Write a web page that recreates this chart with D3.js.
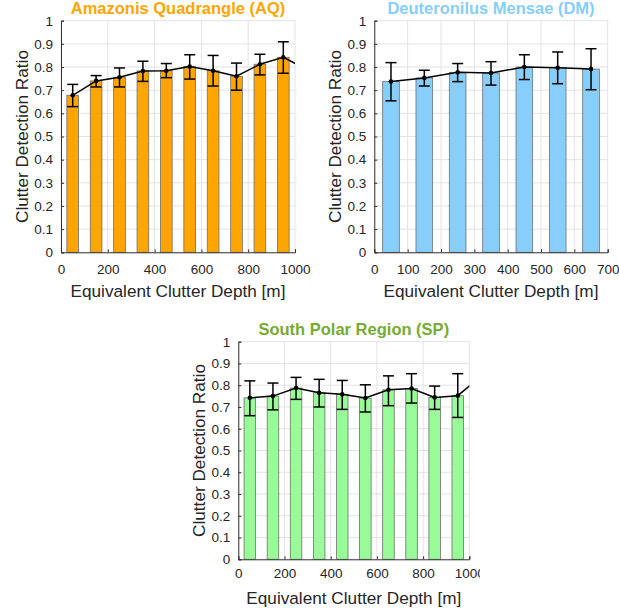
<!DOCTYPE html>
<html>
<head>
<meta charset="utf-8">
<script src="https://cdn.jsdelivr.net/npm/d3@7/dist/d3.min.js"></script>
<style>
  html, body { margin: 0; padding: 0; background: #fff; }
  svg { display: block; font-family: "Liberation Sans", Arial, Helvetica, sans-serif; }
</style>
</head>
<body>
<svg id="chart" width="619" height="613"></svg>
<script>
// ---------- DATA ----------
// Amazonis Quadrangle (AQ)
const aqDepths = [50, 150, 250, 350, 450, 550, 650, 750, 850, 950];
const aqValues = [0.678, 0.740, 0.756, 0.783, 0.784, 0.802, 0.784, 0.760, 0.812, 0.842];
const aqErrLow = [0.629, 0.714, 0.714, 0.738, 0.754, 0.748, 0.718, 0.700, 0.766, 0.773];
const aqErrHigh = [0.725, 0.763, 0.796, 0.825, 0.815, 0.853, 0.850, 0.817, 0.855, 0.909];
const aqLineTail = [{ depth: 1050, value: 0.79 }]; // out-of-range continuation (clipped)

// Deuteronilus Mensae (DM)
const dmDepths = [50, 150, 250, 350, 450, 550, 650];
const dmValues = [0.737, 0.753, 0.777, 0.774, 0.800, 0.797, 0.791];
const dmErrLow = [0.654, 0.718, 0.737, 0.722, 0.746, 0.728, 0.702];
const dmErrHigh = [0.819, 0.786, 0.815, 0.823, 0.853, 0.865, 0.879];
const dmLineTail = [];

// South Polar Region (SP)
const spDepths = [50, 150, 250, 350, 450, 550, 650, 750, 850, 950];
const spValues = [0.742, 0.750, 0.787, 0.765, 0.758, 0.741, 0.779, 0.785, 0.744, 0.752];
const spErrLow = [0.660, 0.687, 0.735, 0.700, 0.689, 0.677, 0.706, 0.718, 0.689, 0.652];
const spErrHigh = [0.820, 0.810, 0.836, 0.827, 0.822, 0.802, 0.843, 0.853, 0.796, 0.853];
const spLineTail = [{ depth: 1050, value: 0.84 }]; // out-of-range continuation (clipped)

const yTicks = [0, 0.1, 0.2, 0.3, 0.4, 0.5, 0.6, 0.7, 0.8, 0.9, 1];
const xTicks1000 = [0, 200, 400, 600, 800, 1000];
const xTicks700 = [0, 100, 200, 300, 400, 500, 600, 700];

const titles = ["Amazonis Quadrangle (AQ)", "Deuteronilus Mensae (DM)", "South Polar Region (SP)"];
const xLabel = "Equivalent Clutter Depth [m]";
const yLabel = "Clutter Detection Ratio";
const binWidth = 50;

// ---------- DRAW ----------
const svg = d3.select("#chart");
const defs = svg.append("defs");
const FONT = '"Liberation Sans", Arial, Helvetica, sans-serif';

function panel(id, cfg) {
  const { left, top, width, height, xMax, xTicks, depths, values, errLow, errHigh, tail,
          fill, titleColor, title, clipRight, tickOffset } = cfg;
  const x = d3.scaleLinear().domain([0, xMax]).range([left, left + width]);
  const y = d3.scaleLinear().domain([0, 1]).range([top + height, top]);

  const outer = svg.append("g");
  if (clipRight !== undefined) {
    defs.append("clipPath").attr("id", "outer-" + id)
      .append("rect").attr("x", 0).attr("y", 0).attr("width", clipRight).attr("height", 613);
    outer.attr("clip-path", `url(#outer-${id})`);
  }

  defs.append("clipPath").attr("id", "plot-" + id)
    .append("rect").attr("x", left).attr("y", top - 20).attr("width", width).attr("height", height + 20);

  // grid
  outer.append("g").selectAll("line.gy").data(yTicks).join("line")
    .attr("x1", left).attr("x2", left + width)
    .attr("y1", d => y(d)).attr("y2", d => y(d))
    .attr("stroke", "#e3e3e3").attr("stroke-width", 1);
  outer.append("g").selectAll("line.gx").data(xTicks).join("line")
    .attr("x1", d => x(d)).attr("x2", d => x(d))
    .attr("y1", top).attr("y2", top + height)
    .attr("stroke", "#e3e3e3").attr("stroke-width", 1);

  // bars
  const bw = x(binWidth) - x(0);
  outer.append("g").selectAll("rect").data(depths).join("rect")
    .attr("x", (d) => x(d) - bw / 2)
    .attr("width", bw)
    .attr("y", (d, i) => y(values[i]))
    .attr("height", (d, i) => y(0) - y(values[i]))
    .attr("fill", fill).attr("stroke", "#6f6f6f").attr("stroke-width", 0.8);

  // axes
  const yAxis = d3.axisLeft(y).tickValues(yTicks).tickFormat(d3.format("~g")).tickSize(-3).tickPadding(8);
  const gy = outer.append("g").attr("transform", `translate(${left},0)`).call(yAxis);
  const xAxis = d3.axisBottom(x).tickValues(xTicks).tickFormat(d3.format("d")).tickSize(-3).tickPadding(7);
  const gx = outer.append("g").attr("transform", `translate(0,${top + height})`).call(xAxis);
  [gx, gy].forEach(g => {
    g.attr("font-size", 13.5).attr("font-family", FONT);
    g.select(".domain").attr("stroke", "#333").attr("stroke-width", 1);
    g.selectAll(".tick line").attr("stroke", "#333");
    g.selectAll(".tick text").attr("fill", "#262626").attr("font-size", 13.5).attr("font-family", FONT);
  });
  gx.selectAll(".tick text").attr("dy", "0.71em").attr("y", tickOffset);

  // line (clipped to plot area)
  const linePts = depths.map((d, i) => ({ depth: d, value: values[i] })).concat(tail);
  const lineG = outer.append("g").attr("clip-path", `url(#plot-${id})`);
  lineG.append("path").datum(linePts)
    .attr("d", d3.line().x(d => x(d.depth)).y(d => y(d.value)))
    .attr("fill", "none").attr("stroke", "#000").attr("stroke-width", 1.5);

  // error bars
  const cap = 5.5;
  const eb = outer.append("g").attr("stroke", "#000").attr("stroke-width", 1.5);
  depths.forEach((d, i) => {
    eb.append("line").attr("x1", x(d)).attr("x2", x(d)).attr("y1", y(errLow[i])).attr("y2", y(errHigh[i]));
    eb.append("line").attr("x1", x(d) - cap).attr("x2", x(d) + cap).attr("y1", y(errLow[i])).attr("y2", y(errLow[i]));
    eb.append("line").attr("x1", x(d) - cap).attr("x2", x(d) + cap).attr("y1", y(errHigh[i])).attr("y2", y(errHigh[i]));
  });
  outer.append("g").selectAll("circle").data(depths).join("circle")
    .attr("cx", d => x(d)).attr("cy", (d, i) => y(values[i])).attr("r", 2.3).attr("fill", "#000");

  // texts
  outer.append("text").attr("x", left + width / 2).attr("y", top - 7)
    .attr("text-anchor", "middle").attr("font-weight", "bold").attr("font-size", 16.5)
    .attr("font-family", FONT).attr("fill", titleColor).text(title);
  outer.append("text").attr("x", left + width / 2).attr("y", top + height + 45)
    .attr("text-anchor", "middle").attr("font-size", 17.2).attr("font-family", FONT)
    .attr("fill", "#262626").text(xLabel);
  outer.append("text")
    .attr("transform", `translate(${left - 33.5},${top + height / 2}) rotate(-90)`)
    .attr("text-anchor", "middle").attr("font-size", 17.2).attr("font-family", FONT)
    .attr("fill", "#262626").text(yLabel);
}

panel("aq", {
  left: 61, top: 20.7, width: 234, height: 231.6, xMax: 1000, xTicks: xTicks1000,
  depths: aqDepths, values: aqValues, errLow: aqErrLow, errHigh: aqErrHigh, tail: aqLineTail,
  fill: "#FFA500", titleColor: "#FFA500", title: titles[0], tickOffset: 12
});
panel("dm", {
  left: 374.3, top: 20.7, width: 233.4, height: 231.6, xMax: 700, xTicks: xTicks700,
  depths: dmDepths, values: dmValues, errLow: dmErrLow, errHigh: dmErrHigh, tail: dmLineTail,
  fill: "#87CEFA", titleColor: "#87CEFA", title: titles[1], tickOffset: 12
});
panel("sp", {
  left: 238.3, top: 341.7, width: 231, height: 217.6, xMax: 1000, xTicks: xTicks1000,
  depths: spDepths, values: spValues, errLow: spErrLow, errHigh: spErrHigh, tail: spLineTail,
  fill: "#98FB98", titleColor: "#77AC30", title: titles[2], clipRight: 480, tickOffset: 9
});
</script>
</body>
</html>
